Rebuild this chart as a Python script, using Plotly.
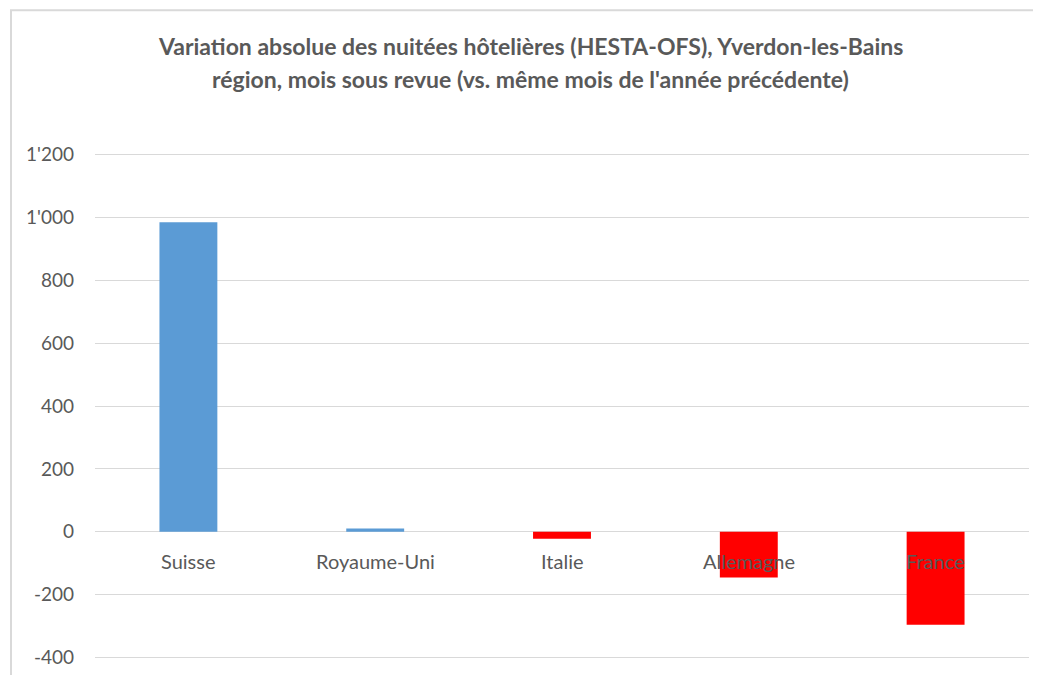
import plotly.graph_objects as go

categories = ["Suisse", "Royaume-Uni", "Italie", "Allemagne", "France"]
values = [985, 10, -22, -146, -296]
title_lines = [
    "Variation absolue des nuitées hôtelières (HESTA-OFS), Yverdon-les-Bains",
    "région, mois sous revue (vs. même mois de l'année précédente)",
]
y_ticks = [-400, -200, 0, 200, 400, 600, 800, 1000, 1200]
y_tick_labels = ["-400", "-200", "0", "200", "400", "600", "800", "1'000", "1'200"]

POS_COLOR = "#5B9BD5"
NEG_COLOR = "#FF0000"
TEXT_COLOR = "#595959"
GRID_COLOR = "#D9D9D9"
FONT = "Lato"

# page offset of the figure inside the browser (body margin)
OFF = 8
W, H = 1041 - OFF, 675 - OFF
Y_RANGE = [-405, 1205]
PX_PER_UNIT = 502 / 1600
PW = 934
PH = (Y_RANGE[1] - Y_RANGE[0]) * PX_PER_UNIT
L = 95 - OFF
T = 155 - OFF - (Y_RANGE[1] - 1200) * PX_PER_UNIT

colors = [POS_COLOR if v >= 0 else NEG_COLOR for v in values]

fig = go.Figure()
fig.add_trace(go.Bar(
    x=categories, y=values,
    marker=dict(color=colors, line=dict(width=0)),
    width=0.31,
    hoverinfo="x+y",
))

# category labels placed next to the zero line (as in the original)
for c in categories:
    fig.add_annotation(x=c, y=0, xref="x", yref="y", text=c, showarrow=False,
                       yanchor="middle", yshift=-29,
                       font=dict(family=FONT, size=20, color=TEXT_COLOR))

# title lines
for i, t in enumerate(title_lines):
    fig.add_annotation(xref="paper", yref="paper", x=(530 - OFF - L) / PW,
                       y=(T + PH - (47 + 33 * i - OFF)) / PH, text="<b>" + t + "</b>",
                       showarrow=False, xanchor="center", yanchor="middle",
                       font=dict(family=FONT, size=23, color=TEXT_COLOR))

# chart-area border
fig.add_shape(type="rect", xref="paper", yref="paper",
              x0=(11 - OFF - L) / PW, x1=(1070 - OFF - L) / PW,
              y0=-0.2, y1=(T + PH - (11 - OFF)) / PH,
              line=dict(color=GRID_COLOR, width=2), fillcolor="rgba(0,0,0,0)",
              layer="below")

fig.update_layout(
    width=W, height=H,
    margin=dict(l=L, r=W - L - PW, t=T, b=H - T - PH, autoexpand=False),
    paper_bgcolor="white", plot_bgcolor="white",
    showlegend=False,
    font=dict(family=FONT, color=TEXT_COLOR),
)
fig.update_xaxes(showticklabels=False, showgrid=False, zeroline=False,
                 showline=False, ticks="")
fig.update_yaxes(range=Y_RANGE, tickvals=y_ticks, ticktext=y_tick_labels,
                 showgrid=True, gridcolor=GRID_COLOR, gridwidth=1,
                 zeroline=True, zerolinecolor=GRID_COLOR, zerolinewidth=1,
                 showline=False, ticks="", ticklabelstandoff=20,
                 tickfont=dict(family=FONT, size=19, color=TEXT_COLOR))

fig.write_html("out.html")
